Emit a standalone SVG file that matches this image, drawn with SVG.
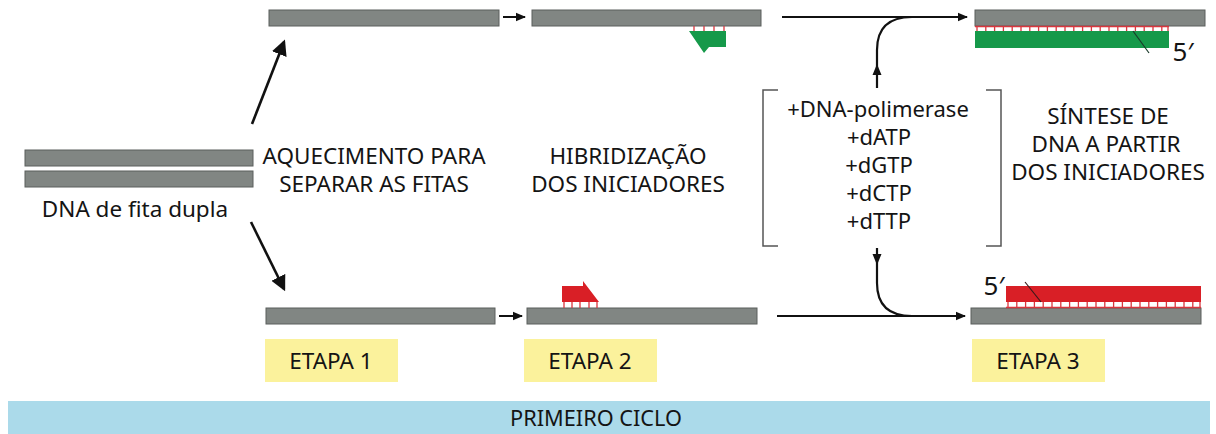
<svg xmlns="http://www.w3.org/2000/svg" width="1216" height="434" viewBox="0 0 1216 434">
<defs>
<style>
.strand{fill:#818683;stroke:#5b5f5d;stroke-width:1}
.green{fill:#16994a}
.red{fill:#d91f26}
.hb{stroke:#d9363e;stroke-width:1.3}
.t{font-family:"Noto Sans","Open Sans",sans-serif;font-size:22.5px;fill:#141414;text-anchor:middle}
.r{font-size:22px}
.p{font-size:26px}
.ln{stroke:#111;fill:none}
.yel{fill:#fbf29c}
.br{stroke:#555;stroke-width:1.5;fill:none}
</style>
<marker id="big" markerWidth="6" markerHeight="6" refX="5" refY="3" orient="auto" markerUnits="strokeWidth"><path d="M0,0 L6,3 L0,6 Z" fill="#111"/></marker>
<marker id="sm" markerWidth="5" markerHeight="5" refX="4.5" refY="2.5" orient="auto" markerUnits="strokeWidth"><path d="M0,0.4 L5,2.5 L0,4.6 Z" fill="#111"/></marker>
</defs>

<g id="dsDNA">
<rect class="strand" x="25" y="150" width="228" height="16"/>
<rect class="strand" x="25" y="171" width="228" height="16"/>
<text class="t" x="135" y="217">DNA de fita dupla</text>
</g>

<g id="step1-top"><rect class="strand" x="269" y="10" width="230" height="16"/></g>
<g id="step1-bottom"><rect class="strand" x="266" y="308" width="229" height="16"/></g>

<g id="step2-top">
<rect class="strand" x="532" y="10" width="229" height="16"/>
<path class="hb" d="M694,26V31M704,26V31M714,26V31M724,26V31"/>
<polygon class="green" points="689,31 726,31 726,47 709,47 704,53"/>
</g>

<g id="step2-bottom">
<rect class="strand" x="527" y="308" width="230" height="16"/>
<path class="hb" d="M564,302V308M572,302V308M580,302V308M589,302V308M597,302V308"/>
<polygon class="red" points="562,286 583,286 583,281 599,302 562,302"/>
</g>

<g id="step3-top">
<rect class="strand" x="975" y="10" width="230" height="16"/>
<path class="hb" d="M975,26.5H1169M977,26V31M985.8,26V31M994.6,26V31M1003.4,26V31M1012.2,26V31M1021,26V31M1029.8,26V31M1038.6,26V31M1047.4,26V31M1056.2,26V31M1065,26V31M1073.8,26V31M1082.6,26V31M1091.4,26V31M1100.2,26V31M1109,26V31M1117.8,26V31M1126.6,26V31M1135.4,26V31M1144.2,26V31M1153,26V31M1161.8,26V31M1168,26V31"/>
<rect class="green" x="975" y="31" width="194" height="17"/>
<path d="M1133,31 L1149,53" stroke="#1a3a2a" stroke-width="1.2"/>
<text class="t p" x="1183" y="61">5′</text>
</g>

<g id="step3-bottom">
<rect class="strand" x="971" y="308" width="230" height="16"/>
<path class="hb" d="M1006,307.5H1201M1008,302V308M1016.8,302V308M1025.6,302V308M1034.4,302V308M1043.2,302V308M1052,302V308M1060.8,302V308M1069.6,302V308M1078.4,302V308M1087.2,302V308M1096,302V308M1104.8,302V308M1113.6,302V308M1122.4,302V308M1131.2,302V308M1140,302V308M1148.8,302V308M1157.6,302V308M1166.4,302V308M1175.2,302V308M1184,302V308M1192.8,302V308M1200,302V308"/>
<rect class="red" x="1006" y="286" width="195" height="16"/>
<path d="M1025,282 L1041,302" stroke="#3a1a1a" stroke-width="1.2"/>
<text class="t p" x="994" y="295">5′</text>
</g>

<g id="labels">
<text class="t" x="374" y="164">AQUECIMENTO PARA</text>
<text class="t" x="374" y="192">SEPARAR AS FITAS</text>
<text class="t" x="628" y="164">HIBRIDIZAÇÃO</text>
<text class="t" x="628" y="192">DOS INICIADORES</text>
<text class="t" x="1108" y="124">SÍNTESE DE</text>
<text class="t" x="1106" y="152">DNA A PARTIR</text>
<text class="t" x="1108" y="180">DOS INICIADORES</text>
</g>

<g id="reagents">
<path class="br" d="M778,90H763V246H778"/>
<path class="br" d="M986,90H1001V246H986"/>
<text class="t r" x="878" y="117">+DNA-polimerase</text>
<text class="t r" x="879" y="145">+dATP</text>
<text class="t r" x="879" y="173">+dGTP</text>
<text class="t r" x="879" y="201">+dCTP</text>
<text class="t r" x="879" y="229">+dTTP</text>
</g>

<g id="connectors">
<line class="ln" x1="252" y1="124" x2="284" y2="42" stroke-width="2.6" marker-end="url(#big)"/>
<line class="ln" x1="251" y1="222" x2="284" y2="289" stroke-width="2.6" marker-end="url(#big)"/>
<line class="ln" x1="503" y1="17" x2="525" y2="17" stroke-width="2" marker-end="url(#sm)"/>
<line class="ln" x1="499" y1="316" x2="522" y2="316" stroke-width="2" marker-end="url(#sm)"/>
<line class="ln" x1="782" y1="17" x2="967" y2="17" stroke-width="2" marker-end="url(#sm)"/>
<line class="ln" x1="777" y1="316" x2="965" y2="316" stroke-width="2" marker-end="url(#sm)"/>
<path class="ln" d="M877,88V50Q877,17 912,17" stroke-width="2.2"/>
<path class="ln" d="M877,248V283Q877,316 912,316" stroke-width="2.2"/>
<polygon points="877,64 872.5,75 881.5,75" fill="#111"/>
<polygon points="877,265 872.5,254 881.5,254" fill="#111"/>
</g>

<g id="etapa1"><rect class="yel" x="265" y="339" width="133" height="43"/><text class="t" x="331" y="369">ETAPA 1</text></g>
<g id="etapa2"><rect class="yel" x="524" y="339" width="133" height="43"/><text class="t" x="590" y="369">ETAPA 2</text></g>
<g id="etapa3"><rect class="yel" x="972" y="339" width="133" height="43"/><text class="t" x="1038" y="369">ETAPA 3</text></g>

<g id="ciclo">
<rect x="8" y="401" width="1202" height="33" fill="#abdaea"/>
<text class="t" x="596" y="426" textLength="172" lengthAdjust="spacingAndGlyphs">PRIMEIRO CICLO</text>
</g>
</svg>
